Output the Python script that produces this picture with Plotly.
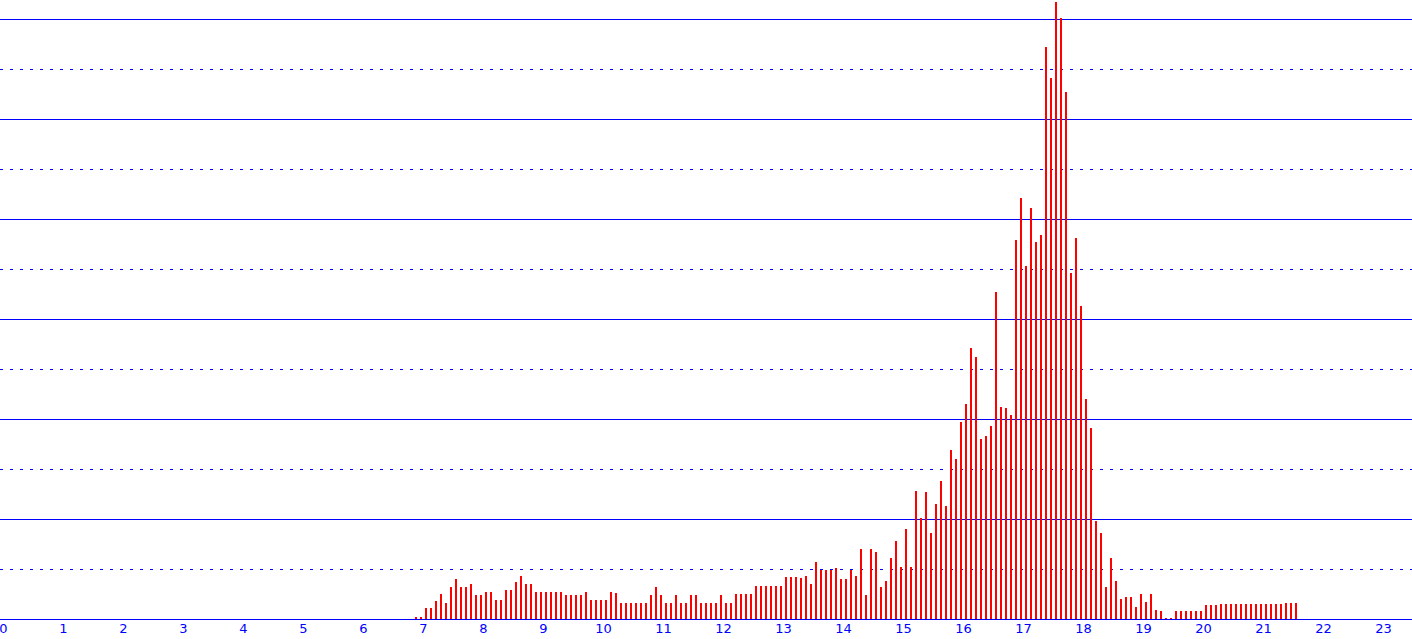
import plotly.graph_objects as go

# 5-minute intervals starting at 06:50
start_time = "06:50"
interval_minutes = 5
values = [
    2, 2, 11, 11, 18, 25, 16, 32, 40, 32, 32, 35, 24, 24, 27, 27, 19, 19, 29, 29,
    37, 43, 35, 35, 27, 27, 27, 27, 27,
    27, 24, 24, 24, 24, 27, 19, 19, 19, 19, 27, 26, 16, 16, 16, 16, 16, 16, 24, 32,
    24, 16, 16, 24, 16, 16, 24, 24, 16,
    16, 16, 16, 24, 16, 16, 25, 25, 25, 25, 33, 33, 33, 33, 33, 33, 42, 42, 42, 41,
    43, 35, 57, 49, 49, 49, 51, 40, 40,
    49, 43, 70, 24, 70, 67, 32, 38, 61, 78, 52, 90, 52, 128, 101, 127, 86, 115, 138,
    113, 169, 160,
    197, 215, 271, 262, 180, 183, 193, 327, 212, 211, 204,
    379, 421, 353, 411, 377, 384, 572, 541, 617, 601, 527, 346, 381, 313, 220, 191, 98,
    86, 32, 61, 38, 20, 22, 22, 12, 25, 17, 25, 9, 8, 0.5, 0.5, 8, 8, 8, 8, 8, 8,
    14, 14, 14, 15, 15, 15, 15, 15, 15, 15, 15, 15, 15, 15, 15, 15, 16, 16, 16,
]
hour_ticks = list(range(0, 24))
tick_labels = [str(h) for h in hour_ticks]

h0, m0 = map(int, start_time.split(":"))
start_hours = h0 + m0 / 60.0
step = interval_minutes / 60.0
x_centers = [start_hours + (i + 0.5) * step for i in range(len(values))]

BLUE = "#0000ff"

fig = go.Figure()
fig.add_trace(go.Bar(
    x=x_centers,
    y=values,
    width=2 / 60.0,
    marker=dict(color="#ff0000", line=dict(width=0)),
    hoverinfo="x+y",
))

fig.update_layout(
    width=1412,
    height=639,
    margin=dict(l=0, r=0, t=0, b=20, pad=0),
    paper_bgcolor="white",
    plot_bgcolor="white",
    showlegend=False,
    bargap=0,
    xaxis=dict(
        range=[-3.5 / 60, 23 + 28.5 / 60],
        tickmode="array",
        tickvals=hour_ticks,
        ticktext=tick_labels,
        showgrid=False,
        zeroline=False,
        showline=False,
        ticks="",
        ticklen=0,
        automargin=False,
        ticklabeloverflow="allow",
        tickfont=dict(family="DejaVu Sans", size=13, color=BLUE),
        fixedrange=True,
    ),
    yaxis=dict(
        range=[0, 619],
        dtick=100,
        showgrid=True,
        gridcolor=BLUE,
        gridwidth=1,
        zeroline=True,
        zerolinecolor=BLUE,
        zerolinewidth=1,
        showticklabels=False,
        ticks="",
        automargin=False,
        minor=dict(dtick=50, showgrid=True, gridcolor=BLUE, gridwidth=1, griddash="3px,7px"),
        fixedrange=True,
    ),
)

fig.write_html(
    "out.html",
    config={"displayModeBar": False},
    post_script="document.body.style.margin='0';document.body.style.overflow='hidden';",
)
